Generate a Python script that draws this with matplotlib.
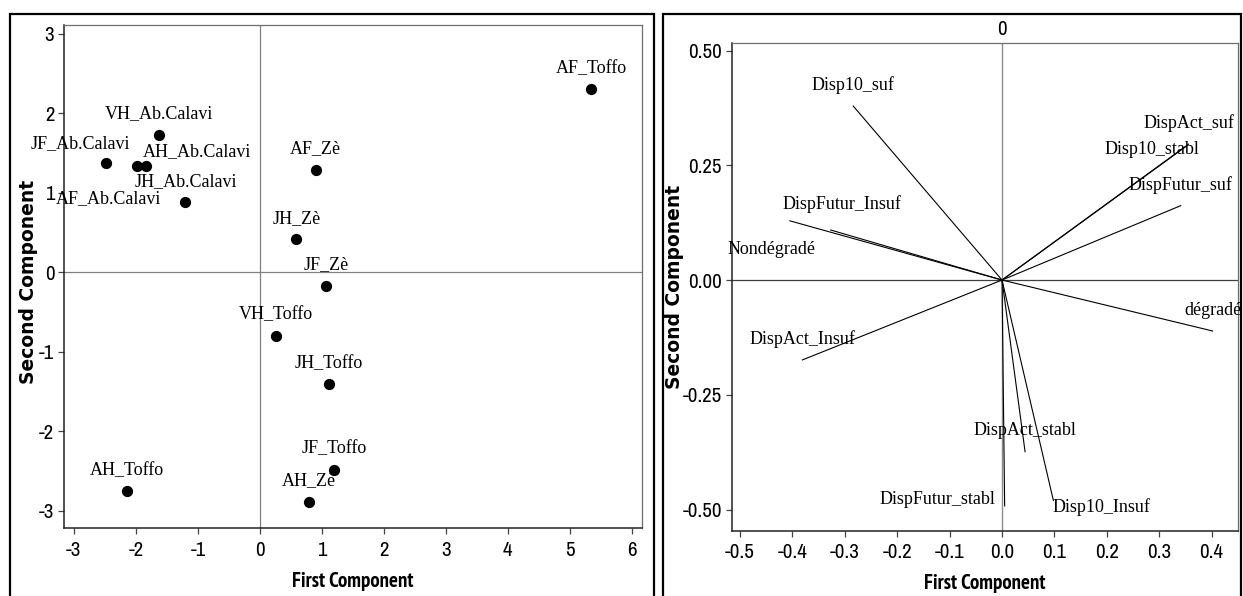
import matplotlib

matplotlib.use("Agg")
import matplotlib.pyplot as plt
from matplotlib import font_manager as fm
from matplotlib.patches import Rectangle
from matplotlib.transforms import blended_transform_factory

DPI = 100

# Left panel: score plot
obs_names = [
    "AF_Toffo", "VH_Ab.Calavi", "JF_Ab.Calavi", "AH_Ab.Calavi", "AF_Ab.Calavi",
    "JH_Ab.Calavi", "AF_Zè", "JH_Zè", "JF_Zè", "VH_Toffo", "JH_Toffo",
    "JF_Toffo", "AH_Zè", "AH_Toffo",
]
score_pc1 = [5.35, -1.63, -2.49, -1.84, -1.98, -1.20, 0.90, 0.59, 1.07, 0.26, 1.11, 1.20, 0.79, -2.15]
score_pc2 = [2.30, 1.73, 1.37, 1.34, 1.34, 0.88, 1.29, 0.415, -0.17, -0.80, -1.41, -2.49, -2.89, -2.76]
score_xticks = [-3, -2, -1, 0, 1, 2, 3, 4, 5, 6]
score_yticks = [-3, -2, -1, 0, 1, 2, 3]

# Right panel: loading plot
var_names = [
    "Disp10_suf", "DispFutur_Insuf", "Nondégradé", "DispAct_Insuf",
    "DispFutur_stabl", "DispAct_stabl", "Disp10_Insuf", "dégradé",
    "DispAct_suf", "Disp10_stabl", "DispFutur_suf",
]
load_pc1 = [-0.284, -0.327, -0.405, -0.381, 0.005, 0.044, 0.098, 0.402, 0.356, 0.350, 0.341]
load_pc2 = [0.379, 0.109, 0.129, -0.174, -0.492, -0.374, -0.480, -0.111, 0.296, 0.290, 0.162]
load_xticks = [-0.5, -0.4, -0.3, -0.2, -0.1, 0.0, 0.1, 0.2, 0.3, 0.4]
load_yticks = [-0.50, -0.25, 0.00, 0.25, 0.50]

# label offsets in pixels (dx right, dy up) from the mark
score_label_offsets = {
    "JF_Ab.Calavi": (-25, 20),
    "AH_Ab.Calavi": (51, 14),
    "AF_Ab.Calavi": (-29, -33),
}
load_label_offsets = {
    "DispFutur_Insuf": (11, 26),
    "Nondégradé": (-18, -29),
    "DispFutur_stabl": (-67, 6),
    "Disp10_Insuf": (48, -7),
    "Disp10_stabl": (-33, -3),
}
DEFAULT_OFFSET = (0, 21)

SERIF = ["Liberation Serif", "DejaVu Serif"]


def narrow_font(bold=False):
    """Pick a narrow sans font if one is installed."""
    weight = 700 if bold else 400
    fonts = fm.fontManager.ttflist
    for test in (
        lambda f: "Narrow" in f.name,
        lambda f: "Condensed" in f.name,
        lambda f: f.stretch in ("condensed", "semi-condensed") and "Sans" in f.name,
    ):
        hits = [f for f in fonts if test(f) and f.style == "normal"]
        hits = [f for f in hits if (f.weight >= 600) == bold]
        if hits:
            hits.sort(key=lambda f: abs(int(f.weight) - weight) if str(f.weight).isdigit() else 0)
            return {"fontproperties": fm.FontProperties(fname=hits[0].fname)}
    return {"family": ["Liberation Sans", "DejaVu Sans"], "fontweight": "bold" if bold else "normal"}


TICK_FONT = narrow_font()
XLABEL_FONT = narrow_font(bold=True)


def px(v):
    return v * 72.0 / DPI


def style_axes(ax, xticks, yticks, fmt):
    for side in ["top", "right"]:
        ax.spines[side].set_color("#6e6e6e")
        ax.spines[side].set_linewidth(0.9)
    for side in ["left", "bottom"]:
        ax.spines[side].set_color("#222222")
        ax.spines[side].set_linewidth(1.1)
    ax.set_xticks(xticks)
    ax.set_yticks(yticks)
    xl = ax.set_xticklabels([fmt[0].format(t) for t in xticks], **TICK_FONT)
    yl = ax.set_yticklabels([fmt[1].format(t) for t in yticks], **TICK_FONT)
    for t in xl + yl:
        t.set_fontsize(15)
    ax.tick_params(direction="out", length=4, width=0.9, color="#444444", pad=3)
    ax.tick_params(axis="x", pad=5)
    lab = ax.set_xlabel("First Component", labelpad=6, **XLABEL_FONT)
    lab.set_fontsize(15)
    ax.set_ylabel("Second Component", family="DejaVu Sans", fontweight="bold", fontsize=13.5, labelpad=6)


def put_label(ax, name, x, y, offsets):
    dx, dy = offsets.get(name, DEFAULT_OFFSET)
    ax.annotate(
        name, (x, y), xytext=(px(dx), px(dy)), textcoords="offset points",
        ha="center", va="center", family=SERIF, fontsize=13,
    )


fig = plt.figure(figsize=(12.43, 5.96), dpi=DPI)

# panel frames
for x0, x1 in [(10, 654), (663, 1241)]:
    fig.patches.append(Rectangle(
        (x0 / 1243, -0.05), (x1 - x0) / 1243, 1 - 14 / 596 + 0.05,
        transform=fig.transFigure, fill=False, edgecolor="black", linewidth=1.6,
    ))

ax1 = fig.add_axes([64 / 1243, 1 - 528 / 596, (641.7 - 64) / 1243, (528 - 25) / 596])
ax1.axhline(0, color="#808080", linewidth=0.9, zorder=1)
ax1.axvline(0, color="#808080", linewidth=0.9, zorder=1)
ax1.scatter(score_pc1, score_pc2, s=50, color="black", zorder=3)
for name, x, y in zip(obs_names, score_pc1, score_pc2):
    put_label(ax1, name, x, y, score_label_offsets)
ax1.set_xlim(-3.16, 6.16)
ax1.set_ylim(-3.22, 3.11)
style_axes(ax1, score_xticks, score_yticks, ("{:g}", "{:g}"))
ax1.xaxis.set_label_coords(0.5, -0.0875)
ax1.yaxis.set_label_coords(-0.0453, 0.49)

ax2 = fig.add_axes([731.7 / 1243, 1 - 530.7 / 596, (1238.3 - 731.7) / 1243, (530.7 - 42.7) / 596])
ax2.axhline(0, color="#404040", linewidth=0.9, zorder=1)
ax2.axvline(0, color="#8c8c8c", linewidth=1.0, zorder=1)
trans = blended_transform_factory(ax2.transData, ax2.transAxes)
zero = ax2.text(0, 1.008, "0", transform=trans, ha="center", va="bottom", **TICK_FONT)
zero.set_fontsize(15)
for name, x, y in zip(var_names, load_pc1, load_pc2):
    ax2.plot([0, x], [0, y], color="black", linewidth=0.8, zorder=2)
    put_label(ax2, name, x, y, load_label_offsets)
ax2.set_xlim(-0.516, 0.451)
ax2.set_ylim(-0.546, 0.517)
style_axes(ax2, load_xticks, load_yticks, ("{:.1f}", "{:.2f}"))
ax2.xaxis.set_label_coords(0.5, -0.0887)
ax2.yaxis.set_label_coords(-0.094, 0.5)

fig.savefig("out.png", dpi=DPI)
